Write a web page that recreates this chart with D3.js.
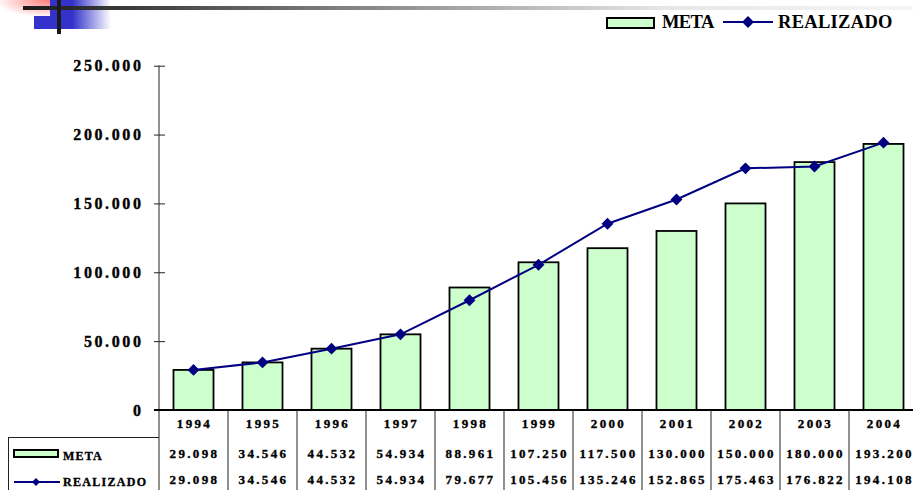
<!DOCTYPE html>
<html>
<head>
<meta charset="utf-8">
<script src="https://cdn.jsdelivr.net/npm/d3@7"></script>
<style>
  html, body { margin: 0; padding: 0; background: #fff; }
  svg { display: block; }
  text { font-family: "Liberation Serif", "Times New Roman", serif; font-weight: bold; fill: #000; }
  .heavy { stroke: #000; stroke-width: 0.35px; }
</style>
</head>
<body>
<svg id="chart" width="913" height="490"></svg>
<script>
// Categories and series
const years = ['1994', '1995', '1996', '1997', '1998', '1999', '2000', '2001', '2002', '2003', '2004'];
const meta = [29098, 34546, 44532, 54934, 88961, 107250, 117500, 130000, 150000, 180000, 193200];
const realizado = [29098, 34546, 44532, 54934, 79677, 105456, 135246, 152865, 175463, 176822, 194108];
const yTicks = [0, 50000, 100000, 150000, 200000, 250000];
const seriesNames = ['META', 'REALIZADO'];

const locale = d3.formatLocale({ decimal: ',', thousands: '.', grouping: [3], currency: ['', ''] });
const fmt = locale.format(',d');

const svg = d3.select('#chart');
const W = 913, H = 490;
const plot = { left: 159, right: 918, top: 65.7, bottom: 410 };
const barFill = '#ccffcc';
const lineColor = '#000080';

// ---- header ornament ----
const defs = svg.append('defs');
const blueGrad = defs.append('linearGradient').attr('id', 'blueFade').attr('x1', 0).attr('x2', 1).attr('y1', 0).attr('y2', 0);
blueGrad.append('stop').attr('offset', '0%').attr('stop-color', '#3333cc');
blueGrad.append('stop').attr('offset', '50%').attr('stop-color', '#3333cc');
blueGrad.append('stop').attr('offset', '100%').attr('stop-color', '#ffffff');
const pinkGrad = defs.append('radialGradient').attr('id', 'pinkFade')
  .attr('cx', 1).attr('cy', 0).attr('r', 1.1).attr('fx', 1).attr('fy', 0);
pinkGrad.append('stop').attr('offset', '0%').attr('stop-color', '#ff7a7a');
pinkGrad.append('stop').attr('offset', '100%').attr('stop-color', '#ffffff');
const greyGrad = defs.append('linearGradient').attr('id', 'greyFade')
  .attr('gradientUnits', 'userSpaceOnUse').attr('x1', 23).attr('x2', 913).attr('y1', 0).attr('y2', 0);
greyGrad.append('stop').attr('offset', '0%').attr('stop-color', '#1a1a1a');
greyGrad.append('stop').attr('offset', '15%').attr('stop-color', '#444444');
greyGrad.append('stop').attr('offset', '45%').attr('stop-color', '#9a9a9a');
greyGrad.append('stop').attr('offset', '72%').attr('stop-color', '#e6e6e6');
greyGrad.append('stop').attr('offset', '100%').attr('stop-color', '#f6f6f6');

const orn = svg.append('g');
orn.append('rect').attr('x', 34).attr('y', 0).attr('width', 77).attr('height', 29).attr('fill', 'url(#blueFade)');
orn.append('rect').attr('x', 0).attr('y', 0).attr('width', 50).attr('height', 16).attr('fill', 'url(#pinkFade)');
orn.append('rect').attr('x', 23).attr('y', 6).attr('width', W - 23).attr('height', 4).attr('fill', 'url(#greyFade)');
orn.append('rect').attr('x', 57).attr('y', 0).attr('width', 4).attr('height', 34).attr('fill', '#1a1a1a');

// ---- scales ----
const x = d3.scaleBand().domain(years).range([plot.left, plot.right]).paddingInner(0.42).paddingOuter(0.21);
const y = d3.scaleLinear().domain([0, 250000]).range([plot.bottom, plot.top]);
const cx = d => x(d) + x.bandwidth() / 2;
const step = x.step();

// ---- y axis ----
const yAxis = d3.axisLeft(y).tickValues(yTicks).tickFormat(fmt).tickSize(5).tickPadding(10.5);
const gy = svg.append('g').attr('transform', `translate(${plot.left},0)`).call(yAxis);
gy.select('.domain').remove();
gy.selectAll('.tick line').attr('x1', 6).attr('x2', -5).attr('stroke', '#222');
gy.selectAll('.tick text')
  .attr('class', 'heavy')
  .attr('font-family', '"Liberation Serif", "Times New Roman", serif')
  .attr('font-size', 16).attr('font-weight', 'bold').attr('letter-spacing', '2.6px')
  .attr('fill', '#000').attr('dy', '0.33em');
svg.append('line').attr('x1', plot.left).attr('x2', plot.left).attr('y1', plot.top).attr('y2', H)
  .attr('stroke', '#222').attr('stroke-width', 1);

// ---- bars ----
svg.append('g').selectAll('rect').data(years).join('rect')
  .attr('x', d => x(d)).attr('width', x.bandwidth())
  .attr('y', (d, i) => y(meta[i])).attr('height', (d, i) => y(0) - y(meta[i]))
  .attr('fill', barFill).attr('stroke', '#000').attr('stroke-width', 1.8);

// baseline
svg.append('line').attr('x1', plot.left - 5).attr('x2', W).attr('y1', plot.bottom).attr('y2', plot.bottom)
  .attr('stroke', '#000').attr('stroke-width', 2);

// ---- line series ----
const line = d3.line().x((d, i) => cx(years[i])).y(d => y(d));
svg.append('path').datum(realizado).attr('d', line)
  .attr('fill', 'none').attr('stroke', lineColor).attr('stroke-width', 2);
const diamond = d3.symbol().type(d3.symbolDiamond2).size(90);
svg.append('g').selectAll('path').data(realizado).join('path')
  .attr('d', diamond)
  .attr('transform', (d, i) => `translate(${cx(years[i])},${y(d)})`)
  .attr('fill', lineColor);

// ---- legend ----
const lg = svg.append('g');
lg.append('rect').attr('x', 607).attr('y', 18).attr('width', 47).attr('height', 10)
  .attr('fill', barFill).attr('stroke', '#000').attr('stroke-width', 2);
lg.append('text').attr('x', 662).attr('y', 28).attr('font-size', 18.5).attr('letter-spacing', '-0.6px').text(seriesNames[0]);
lg.append('line').attr('x1', 723).attr('x2', 773).attr('y1', 22).attr('y2', 22).attr('stroke', lineColor).attr('stroke-width', 2);
lg.append('path').attr('d', diamond).attr('transform', 'translate(748,22)').attr('fill', lineColor);
lg.append('text').attr('x', 778).attr('y', 28).attr('font-size', 18.5).attr('letter-spacing', '0.3px').text(seriesNames[1]);

// ---- data table ----
const tbl = svg.append('g');
// column rules
years.forEach((d, i) => {
  const xr = plot.left + step * (i + 1);
  tbl.append('line').attr('x1', xr).attr('x2', xr).attr('y1', plot.bottom).attr('y2', H)
    .attr('stroke', '#222').attr('stroke-width', 1);
});
// row-label box
tbl.append('line').attr('x1', 8).attr('x2', plot.left).attr('y1', 437.5).attr('y2', 437.5).attr('stroke', '#222');
tbl.append('line').attr('x1', 8.5).attr('x2', 8.5).attr('y1', 437.5).attr('y2', H).attr('stroke', '#222');

const cellText = (sel) => sel.attr('class', 'heavy').attr('font-size', 13).attr('letter-spacing', '2.35px').attr('text-anchor', 'middle');
tbl.append('g').selectAll('text').data(years).join('text')
  .call(cellText).attr('x', d => cx(d) + 1).attr('y', 428.3).text(d => d);
tbl.append('g').selectAll('text').data(meta).join('text')
  .call(cellText).attr('x', (d, i) => cx(years[i]) + 1).attr('y', 457.7).text(d => fmt(d));
tbl.append('g').selectAll('text').data(realizado).join('text')
  .call(cellText).attr('x', (d, i) => cx(years[i]) + 1).attr('y', 484).text(d => fmt(d));

// row keys and labels
tbl.append('rect').attr('x', 14).attr('y', 450).attr('width', 44).attr('height', 7)
  .attr('fill', barFill).attr('stroke', '#000').attr('stroke-width', 2);
tbl.append('text').attr('class', 'heavy').attr('x', 63).attr('y', 459.5).attr('font-size', 12).attr('letter-spacing', '1.2px').text(seriesNames[0]);
tbl.append('line').attr('x1', 14).attr('x2', 60).attr('y1', 482).attr('y2', 482).attr('stroke', lineColor).attr('stroke-width', 2);
tbl.append('path').attr('d', d3.symbol().type(d3.symbolDiamond2).size(40)).attr('transform', 'translate(36,482)').attr('fill', lineColor);
tbl.append('text').attr('class', 'heavy').attr('x', 63).attr('y', 486).attr('font-size', 12).attr('letter-spacing', '1.3px').text(seriesNames[1]);
</script>
</body>
</html>
